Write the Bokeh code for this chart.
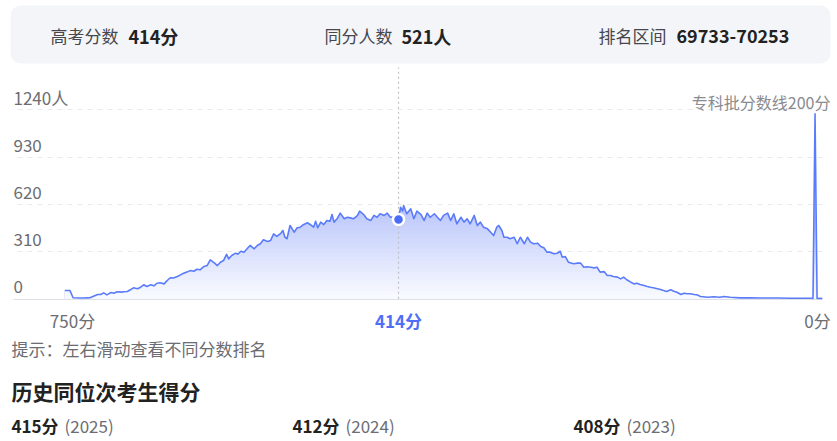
import numpy as np
from bokeh.plotting import figure
from bokeh.models import Range1d, Label, LabelSet, ColumnDataSource, Grid, FixedTicker, BoxAnnotation
from bokeh.core.properties import value
from bokeh.embed import file_html
from bokeh.resources import INLINE

# ---------------- data ----------------
scores = [
    740, 735, 732, 725, 720, 715, 712, 708, 705, 702,
    699, 695, 692, 689, 685, 682, 679, 676, 673, 669,
    666, 663, 660, 656, 653, 650, 647, 643, 640, 637,
    634, 630, 627, 624, 621, 617, 614, 611, 608, 604,
    601, 598, 594, 591, 588, 585, 582, 580, 577, 573,
    571, 568, 565, 562, 559, 555, 552, 549, 546, 542,
    539, 536, 533, 529, 527, 525, 523, 520, 516, 513,
    510, 507, 503, 500, 497, 495, 493, 490, 487, 484,
    481, 479, 477, 474, 471, 467, 464, 461, 458, 454,
    452, 448, 445, 441, 438, 435, 432, 428, 425, 422,
    418, 414, 412, 410, 409, 406, 402, 399, 396, 392,
    389, 386, 383, 379, 376, 373, 370, 366, 363, 360,
    357, 353, 350, 347, 344, 340, 337, 334, 331, 327,
    324, 321, 318, 316, 313, 311, 308, 305, 301, 298,
    295, 291, 288, 285, 282, 278, 275, 272, 269, 266,
    262, 259, 256, 254, 251, 248, 243, 239, 236, 233,
    230, 226, 223, 220, 217, 213, 210, 207, 204, 200,
    197, 194, 191, 187, 184, 181, 178, 174, 171, 168,
    165, 161, 158, 155, 152, 148, 145, 142, 138, 135,
    132, 129, 125, 122, 119, 112, 106, 100, 96, 90,
    80, 70, 60, 44, 30, 20, 11, 9, 7, 5,
    0,
]
counts = [
    54, 54, 7, 5, 6, 8, 17, 28, 28, 39,
    26, 41, 37, 46, 44, 46, 48, 59, 72, 66,
    76, 92, 81, 92, 85, 102, 105, 98, 120, 138,
    136, 146, 157, 168, 175, 186, 181, 194, 190, 212,
    218, 255, 236, 218, 240, 251, 292, 262, 284, 300,
    292, 312, 305, 328, 350, 328, 350, 361, 387, 376,
    383, 426, 409, 430, 448, 404, 394, 481, 437, 466,
    470, 486, 499, 486, 470, 509, 466, 503, 487, 514,
    509, 553, 503, 525, 562, 525, 535, 531, 525, 547,
    575, 553, 525, 514, 547, 535, 558, 547, 562, 535,
    540, 521, 601, 575, 612, 558, 590, 525, 575, 553,
    514, 562, 535, 558, 535, 514, 547, 562, 514, 558,
    492, 535, 503, 525, 492, 547, 481, 503, 470, 459,
    437, 415, 470, 481, 448, 404, 404, 394, 404, 361,
    404, 361, 404, 372, 361, 365, 343, 335, 306, 306,
    295, 299, 312, 273, 277, 240, 230, 234, 234, 207,
    210, 207, 203, 207, 175, 178, 153, 153, 146, 142,
    131, 142, 125, 109, 98, 102, 94, 87, 81, 76,
    72, 66, 61, 54, 48, 59, 50, 43, 28, 37,
    33, 33, 28, 26, 15, 10, 13, 10, 15, 10,
    6, 6, 5, 5, 4, 4, 4, 3, 1214, 2,
    3,
]
assert len(scores) == len(counts)

y_ticks = [0, 310, 620, 930, 1240]
y_tick_labels = ["0", "310", "620", "930", "1240人"]
x_end_labels = ["750分", "0分"]

sel_score = 414
sel_count = 521
rank_range = "69733-70253"
cutoff_label = "专科批分数线200分"

hist_scores = [415, 412, 408]
hist_years = [2025, 2024, 2023]

FONT = "Noto Sans CJK SC"
BLUE = "#5b7cfa"
W, H = 837, 441

# ---------------- figure ----------------
# whole canvas is the frame; scales chosen so the chart area sits at
# x 13..822 px and value 0 at y=298 px (from top)
PX_PER_SCORE = 1.0234
PX_PER_COUNT = 0.15242
X0_PX = 821.7      # pixel of score 0
Y0_PX = 298.3      # pixel (from top) of count 0
x_left = X0_PX / PX_PER_SCORE
x_right = (X0_PX - W) / PX_PER_SCORE
y_bottom = -(H - Y0_PX) / PX_PER_COUNT
y_top = Y0_PX / PX_PER_COUNT

p = figure(width=W, height=H, output_backend="svg", toolbar_location=None,
           x_range=Range1d(x_left, x_right), y_range=Range1d(y_bottom, y_top),
           x_axis_location=None, y_axis_location=None,
           min_border_left=0, min_border_right=0, min_border_top=0, min_border_bottom=0)
p.outline_line_color = None
p.xgrid.visible = False
p.ygrid.visible = False
p.background_fill_color = "white"
p.border_fill_color = "white"

def sx(X):
    return X

def sy(Y):
    return H - Y

# chart area extent in data units
grid_left = (X0_PX - 13) / PX_PER_SCORE
grid_right = (X0_PX - 822) / PX_PER_SCORE
span_top = (Y0_PX - 67) / PX_PER_COUNT

# header box
p.add_layout(BoxAnnotation(left=sx(10), right=sx(830), top=sy(5), bottom=sy(63),
                           left_units="screen", right_units="screen",
                           top_units="screen", bottom_units="screen",
                           fill_color="#f4f5f9", fill_alpha=1.0, line_color=None,
                           border_radius=10, level="underlay"))

# grid
p.add_layout(Grid(dimension=1, ticker=FixedTicker(ticks=y_ticks[1:]),
                  cross_bounds=(grid_right, grid_left),
                  grid_line_color="#e9e9ee", grid_line_dash="5 5", grid_line_width=1))
p.add_layout(Grid(dimension=1, ticker=FixedTicker(ticks=[-6]),
                  cross_bounds=(grid_right, grid_left),
                  grid_line_color="#dfe0e6", grid_line_width=1.2))

# gradient area
cnt = np.array(counts, dtype=float)
top_rgb = np.array([186, 198, 250])
bot_rgb = np.array([250, 251, 255])
levels = np.linspace(600, 25, 24)
def col(frac):
    frac = min(max(frac, 0.0), 1.0)
    c = bot_rgb + (top_rgb - bot_rgb) * frac
    return "#%02x%02x%02x" % tuple(int(round(v)) for v in c)
p.varea(x=scores, y1=0, y2=cnt, fill_color=col(1.0))
for L in levels:
    p.varea(x=scores, y1=0, y2=np.minimum(cnt, L), fill_color=col((L - 12) / 600))

# vertical dotted line at selected score
p.segment(x0=[sel_score], y0=[0], x1=[sel_score], y1=[span_top],
          line_color="#bfc0c4", line_width=1.2, line_dash="2 3")

p.line(scores, counts, line_color=BLUE, line_width=1.6, line_join="round")
p.scatter([sel_score], [sel_count], size=11, fill_color="#4a6cf7", line_color="white", line_width=2.5)

# y tick labels inside the plot
ysrc = ColumnDataSource(dict(y=y_ticks, t=y_tick_labels, x=[13] * len(y_ticks)))
p.add_layout(LabelSet(x="x", y="y", text="t", source=ysrc, x_units="screen", y_offset=12,
                      text_font=value(FONT), text_font_size="17px", text_color="#6b6d73",
                      text_baseline="middle", text_align="left"))

def lab(x, y, text, size="17px", color="#666666", bold=False, align="left", x_units="screen"):
    p.add_layout(Label(x=x, y=y, x_units=x_units, y_units="screen", text=text,
                       text_font=FONT, text_font_size=size, text_color=color,
                       text_font_style="bold" if bold else "normal",
                       text_align=align, text_baseline="middle"))

# header
hy = sy(35)
lab(sx(50), hy, "高考分数", color="#45474d")
lab(sx(128), hy, f"{sel_score}分", size="18px", color="#222222", bold=True)
lab(sx(324), hy, "同分人数", color="#45474d")
lab(sx(401), hy, f"{sel_count}人", size="18px", color="#222222", bold=True)
lab(sx(598), hy, "排名区间", color="#45474d")
lab(sx(676), hy, rank_range, size="18px", color="#222222", bold=True)

# cutoff label
lab(sx(830), sy(101), cutoff_label, size="16px", color="#8a8b90", align="right")

# x labels
xy = sy(320)
lab(sx(72), xy, x_end_labels[0], color="#6b6d73", align="center")
lab(sel_score, xy, f"{sel_score}分", color="#4f6ef7", bold=True, align="center", x_units="data")
lab(sx(817), xy, x_end_labels[1], color="#6b6d73", align="center")

# hint
lab(sx(11), sy(348), "提示：左右滑动查看不同分数排名", color="#6b6d73")

# history
lab(sx(11), sy(390), "历史同位次考生得分", size="21px", color="#222222", bold=True)
hx = [11, 292, 573]
for X, s, yr in zip(hx, hist_scores, hist_years):
    lab(sx(X), sy(425), f"{s}分", color="#222222", bold=True)
    lab(sx(X + 53), sy(425), f"({yr})", color="#6b6d73")

open("out.html", "w").write(file_html(p, INLINE))
